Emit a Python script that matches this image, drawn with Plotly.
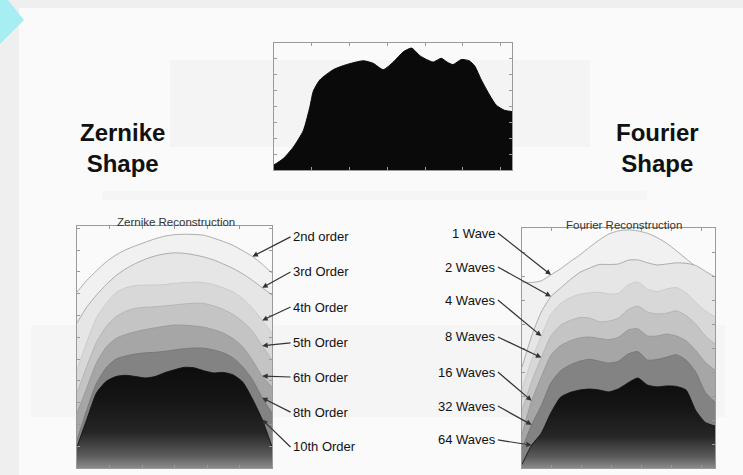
import plotly.graph_objects as go

W, H = 743, 475
FONT = "Arial, Liberation Sans, Helvetica, sans-serif"

# ---------------- data ----------------
# Original shape (top panel), position 0-100 across the aperture
profile_x = [0, 3.9, 8.1, 12.3, 15.1, 16.5, 19.3, 24.9, 30.5, 37.5, 41.7, 45.9, 50.1,
             54.3, 57.8, 61.3, 64.1, 66.9, 70.3, 72.7, 75.2, 78.7, 82.0, 84.3, 87.1,
             90.6, 93.4, 96.9, 100]
profile_y = [4, 9, 18, 31, 50, 62, 71, 79, 83, 86, 84, 79, 85,
             93, 96, 90, 87, 85, 88, 85, 83, 87, 86, 82, 71,
             59, 51, 47, 46]

# Sample positions shared by the reconstruction layers
grid_x = [0, 5, 10, 15, 20, 25, 30, 35, 40, 45, 50, 55, 60, 65, 70, 75, 80, 85, 90, 95, 100]

# Zernike reconstructions (stacked display heights)
zernike_labels = ["2nd order", "3rd Order", "4th Order", "5th Order",
                  "6th Order", "8th Order", "10th Order"]
zernike_2nd = [72.7, 77.5, 81.5, 85.2, 88.0, 90.2, 91.8, 93.3, 94.7, 95.8, 96.4,
               96.6, 96.5, 96.2, 95.0, 93.6, 92.0, 89.8, 87.4, 84.2, 80.6]
zernike_3rd = [60.0, 66.5, 71.5, 75.8, 79.5, 82.3, 84.5, 86.3, 87.6, 88.5, 88.9,
               88.7, 88.1, 87.2, 86.0, 84.3, 82.5, 80.2, 77.5, 74.5, 71.5]
zernike_4th = [40.5, 52.0, 62.0, 68.0, 72.5, 74.5, 75.4, 75.6, 75.6, 75.8, 76.3,
               76.6, 76.8, 76.6, 75.8, 74.5, 72.8, 70.0, 66.0, 61.0, 55.8]
zernike_5th = [31.0, 42.0, 52.0, 58.5, 62.5, 64.8, 66.0, 66.4, 66.6, 67.0, 67.4,
               67.8, 68.1, 68.0, 67.0, 65.5, 63.5, 60.5, 56.5, 50.5, 44.6]
zernike_6th = [22.7, 33.0, 43.5, 50.0, 53.5, 55.2, 56.3, 57.2, 57.9, 58.6, 59.1,
               59.0, 58.7, 58.2, 57.2, 55.8, 53.5, 50.0, 44.5, 38.0, 33.5]
zernike_8th = [11.6, 24.0, 35.0, 41.5, 45.0, 46.3, 47.1, 47.6, 47.8, 48.2, 48.8,
               49.3, 49.6, 49.5, 48.8, 47.6, 45.5, 41.8, 36.5, 29.0, 22.7]
zernike_10th = [8.7, 20.0, 31.0, 35.8, 37.8, 38.3, 37.8, 37.2, 37.8, 39.4, 40.6,
                41.6, 41.4, 40.2, 39.3, 39.5, 38.5, 35.5, 28.5, 20.0, 8.7]

# Fourier reconstructions (stacked display heights)
fourier_labels = ["1 Wave", "2 Waves", "4 Waves", "8 Waves",
                  "16 Waves", "32 Waves", "64 Waves"]
fourier_1 = [77.5, 77.3, 78.0, 80.5, 83.0, 86.0, 88.8, 92.0, 95.0, 97.5, 98.8,
             99.2, 98.8, 97.8, 96.0, 93.6, 90.5, 87.2, 84.0, 81.0, 78.3]
fourier_2 = [42.0, 55.0, 65.0, 71.5, 75.0, 78.5, 81.5, 83.3, 84.8, 84.8, 85.0,
             86.6, 86.7, 85.5, 84.6, 85.0, 85.5, 85.3, 84.4, 82.0, 79.6]
fourier_4 = [33.0, 45.0, 55.0, 64.0, 68.5, 71.0, 72.4, 73.0, 73.2, 72.5, 72.8,
             76.3, 77.5, 74.5, 73.5, 74.6, 75.2, 73.0, 69.0, 65.5, 62.9]
fourier_8 = [24.0, 36.0, 46.0, 55.0, 59.5, 61.5, 62.7, 62.5, 61.0, 61.2, 62.5,
             66.0, 67.5, 65.0, 64.2, 64.5, 65.5, 63.5, 60.0, 55.0, 51.7]
fourier_16 = [14.0, 28.0, 38.0, 47.0, 51.0, 53.0, 54.2, 54.6, 54.0, 53.5, 54.5,
              57.5, 58.0, 55.0, 55.0, 55.8, 55.0, 53.0, 49.0, 44.0, 40.8]
fourier_32 = [8.0, 18.0, 26.0, 35.5, 40.5, 43.0, 44.5, 45.3, 44.5, 43.7, 44.5,
              47.5, 48.5, 45.0, 45.2, 46.2, 47.2, 45.0, 40.0, 31.5, 27.5]
fourier_64 = [1.5, 9.5, 14.5, 23.0, 29.5, 31.5, 32.5, 32.9, 32.5, 31.7, 33.0,
              35.5, 37.5, 34.6, 33.8, 34.2, 34.0, 32.5, 24.0, 19.0, 17.5]

zernike_layers = [zernike_2nd, zernike_3rd, zernike_4th, zernike_5th,
                  zernike_6th, zernike_8th, zernike_10th]
fourier_layers = [fourier_1, fourier_2, fourier_4, fourier_8,
                  fourier_16, fourier_32, fourier_64]

# ---------------- styling ----------------
layer_fills = ["#f1f1f1", "#e6e6e6", "#d8d8d8", "#c4c4c4", "#a6a6a6", "#838383", None]
layer_lines = ["#a4a4a4", "#a4a4a4", "#c8c8c8", "#b2b2b2", "#979797", "#767676", "#111111"]
dark_gradient = [[0.0, "#8a8a8a"], [0.12, "#5c5c5c"], [0.35, "#262626"],
                 [0.7, "#141414"], [1.0, "#0d0d0d"]]


def dom(p0, p1, total, flip=False):
    if flip:
        return [1 - p1 / total, 1 - p0 / total]
    return [p0 / total, p1 / total]


fig = go.Figure()

# Top panel: the shape itself
fig.add_trace(go.Scatter(x=profile_x, y=profile_y, mode="lines", fill="tozeroy",
                         line=dict(color="#0a0a0a", width=1, shape="spline", smoothing=0.6),
                         fillcolor="#0a0a0a", xaxis="x", yaxis="y",
                         hoverinfo="skip", showlegend=False))


def add_layers(layers, xa, ya):
    for i, ys in enumerate(layers):
        kw = {}
        if layer_fills[i] is None:
            kw["fillgradient"] = dict(type="vertical", colorscale=dark_gradient,
                                      start=0, stop=max(ys))
        else:
            kw["fillcolor"] = layer_fills[i]
        fig.add_trace(go.Scatter(x=grid_x, y=ys, mode="lines", fill="tozeroy",
                                 line=dict(color=layer_lines[i], width=0.9,
                                           shape="spline", smoothing=0.6),
                                 xaxis=xa, yaxis=ya, hoverinfo="skip",
                                 showlegend=False, **kw))


add_layers(zernike_layers, "x2", "y2")
add_layers(fourier_layers, "x3", "y3")

axis_common = dict(showgrid=False, zeroline=False, showticklabels=False,
                   showline=True, linecolor="#9a9a9a", linewidth=1, mirror="ticks",
                   ticks="inside", ticklen=3, tickcolor="#9a9a9a", tickmode="linear",
                   fixedrange=True)

fig.update_layout(
    width=W, height=H,
    margin=dict(l=0, r=0, t=0, b=0),
    paper_bgcolor="#efefef",
    plot_bgcolor="#fdfdfd",
    xaxis=dict(domain=dom(274, 512, W), range=[0, 100], tick0=0, dtick=15.87, anchor="y", **axis_common),
    yaxis=dict(domain=dom(43, 170, H, True), range=[0, 100], tick0=0, dtick=12.5, anchor="x", **axis_common),
    xaxis2=dict(domain=dom(77, 272, W), range=[0, 100], tick0=0, dtick=16.67, anchor="y2", **axis_common),
    yaxis2=dict(domain=dom(226, 468, H, True), range=[0, 100], tick0=0, dtick=9, anchor="x2", **axis_common),
    xaxis3=dict(domain=dom(522, 715, W), range=[0, 100], tick0=0, dtick=15.5, anchor="y3", **axis_common),
    yaxis3=dict(domain=dom(228, 468, H, True), range=[0, 100], tick0=0, dtick=10, anchor="x3", **axis_common),
)

# Page background: slide area, faint bands and the cyan corner mark
shapes = [
    dict(type="rect", xref="paper", yref="paper", x0=19 / W, x1=1, y0=0, y1=1 - 8 / H,
         fillcolor="#fafafa", line_width=0, layer="below"),
    dict(type="rect", xref="paper", yref="paper", x0=170 / W, x1=590 / W,
         y0=1 - 147 / H, y1=1 - 60 / H, fillcolor="#f4f4f4", line_width=0, layer="below"),
    dict(type="rect", xref="paper", yref="paper", x0=102 / W, x1=647 / W,
         y0=1 - 200 / H, y1=1 - 191 / H, fillcolor="#f5f5f5", line_width=0, layer="below"),
    dict(type="rect", xref="paper", yref="paper", x0=31 / W, x1=725 / W,
         y0=1 - 417 / H, y1=1 - 325 / H, fillcolor="#f5f5f5", line_width=0, layer="below"),
    dict(type="path", xref="paper", yref="paper",
         path=f"M 0 1 L {8 / W} 1 L {24 / W} {1 - 20 / H} L 0 {1 - 44 / H} Z",
         fillcolor="#a6eef2", line_width=0, layer="below"),
]
fig.update_layout(shapes=shapes)

annotations = []
# Side headings
for txt, cx in [("Zernike<br>Shape", 122), ("Fourier<br>Shape", 657)]:
    annotations.append(dict(text=f"<b>{txt}</b>", xref="paper", yref="paper",
                            x=cx / W, y=1 - 148 / H, showarrow=False,
                            font=dict(family=FONT, size=24, color="#111111"),
                            xanchor="center", yanchor="middle", align="center"))
# Panel titles
annotations.append(dict(text="Zernike Reconstruction", xref="x2 domain", yref="y2 domain",
                        x=0.51, y=1.0, yshift=12, showarrow=False,
                        font=dict(family=FONT, size=11.5, color="#333333")))
annotations.append(dict(text="Fourier Reconstruction", xref="x3 domain", yref="y3 domain",
                        x=0.53, y=1.0, yshift=11, showarrow=False,
                        font=dict(family=FONT, size=11.5, color="#333333")))

# Callouts for the Zernike layers (text to the right, arrow to the layer edge)
zernike_label_y = [95.5, 81.0, 66.5, 51.7, 37.6, 23.1, 8.7]
zernike_tip_idx = [18, 19, 19, 19, 19, 19, 19]
for lab, ly, idx, ys in zip(zernike_labels, zernike_label_y, zernike_tip_idx, zernike_layers):
    annotations.append(dict(text=lab, xref="x2", yref="y2", axref="x2", ayref="y2",
                            x=grid_x[idx], y=ys[idx], ax=109.5, ay=ly,
                            xanchor="left", yanchor="middle", showarrow=True,
                            arrowhead=2, arrowsize=0.9, arrowwidth=1.2, arrowcolor="#333333",
                            standoff=0, startstandoff=0,
                            font=dict(family=FONT, size=13, color="#111111")))

# Callouts for the Fourier layers (text to the left)
fourier_label_y = [97.9, 83.75, 70.0, 54.6, 40.0, 25.8, 11.7]
fourier_tip_idx = [3, 3, 2, 2, 1, 1, 1]
for lab, ly, idx, ys in zip(fourier_labels, fourier_label_y, fourier_tip_idx, fourier_layers):
    annotations.append(dict(text=lab, xref="x3", yref="y3", axref="x3", ayref="y3",
                            x=grid_x[idx], y=ys[idx], ax=-12.5, ay=ly,
                            xanchor="right", yanchor="middle", showarrow=True,
                            arrowhead=2, arrowsize=0.9, arrowwidth=1.2, arrowcolor="#333333",
                            standoff=0, startstandoff=0,
                            font=dict(family=FONT, size=13, color="#111111")))

fig.update_layout(annotations=annotations)

fig.write_html("out.html")
